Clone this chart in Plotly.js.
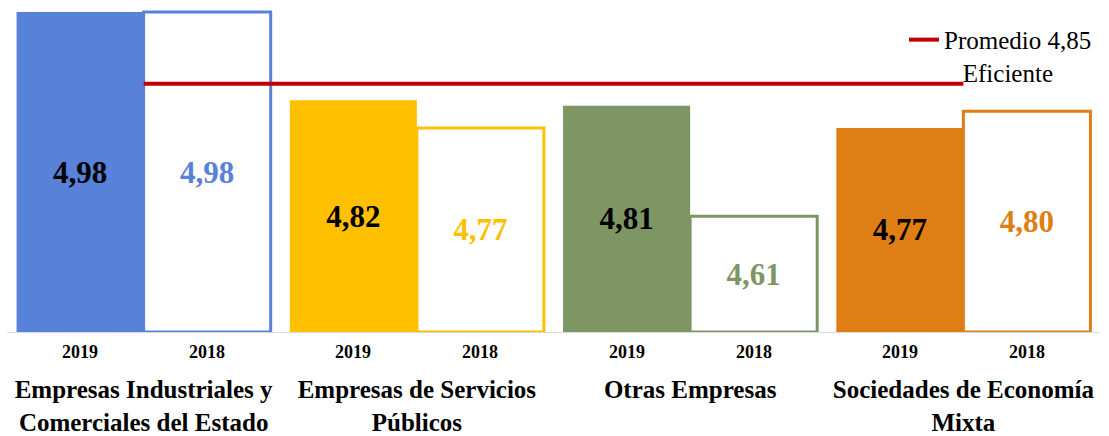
<!DOCTYPE html>
<html>
<head>
<meta charset="utf-8">
<script src="https://cdn.plot.ly/plotly-3.0.1.min.js"></script>
<style>html,body{margin:0;padding:0;background:#fff;}#chart{width:1109px;height:436px;}</style>
</head>
<body>
<div id="chart"></div>
<script>
// ---- data ----
const groups = [
  "Empresas Industriales y<br>Comerciales del Estado",
  "Empresas de Servicios<br>Públicos",
  "Otras Empresas",
  "Sociedades de Economía<br>Mixta"
];
const yearLabels = ["2019", "2018"];
const values2019 = [4.98, 4.82, 4.81, 4.77];
const values2018 = [4.98, 4.77, 4.61, 4.80];
const promedio = 4.85;
const promedioLabel = "Eficiente";
const groupColors = ["#5882D9", "#FFC000", "#7E9564", "#DF7E14"];

// ---- layout constants ----
const Y_MIN = 4.4, Y_MAX = 5.0;
const BARGAP = 0.07;
const SERIF = "Liberation Serif, Times New Roman, serif";
const fmt = v => v.toFixed(2).replace(".", ",");

const trace2019 = {
  type: "bar",
  name: yearLabels[0],
  x: groups,
  y: values2019.map(v => v - Y_MIN),
  base: Y_MIN,
  text: values2019.map(fmt),
  textposition: "inside",
  insidetextanchor: "middle",
  textangle: 0,
  constraintext: "none",
  textfont: {family: SERIF, size: 31, weight: "bold", color: "#000000"},
  marker: {color: groupColors, line: {width: 0}},
  showlegend: false,
  cliponaxis: false,
  hoverinfo: "skip"
};
const trace2018 = {
  type: "bar",
  name: yearLabels[1],
  x: groups,
  y: values2018.map(v => v - Y_MIN),
  base: Y_MIN,
  text: values2018.map(fmt),
  textposition: "inside",
  insidetextanchor: "middle",
  textangle: 0,
  constraintext: "none",
  textfont: {family: SERIF, size: 31, weight: "bold", color: groupColors},
  marker: {color: "#FFFFFF", line: {width: 3, color: groupColors}},
  showlegend: false,
  cliponaxis: false,
  hoverinfo: "skip"
};
const avgTrace = {
  type: "scatter",
  mode: "lines",
  x: [groups[0], groups[groups.length - 1]],
  y: [promedio, promedio],
  name: "Promedio " + fmt(promedio) + "<br>\u00a0\u00a0\u00a0" + promedioLabel,
  line: {color: "#C00000", width: 4},
  showlegend: true,
  hoverinfo: "skip"
};

// year labels below each bar (offset computed from the bar layout)
const half = (1 - BARGAP) / 4;
const annotations = [];
groups.forEach((g, i) => {
  yearLabels.forEach((yl, j) => {
    annotations.push({
      xref: "x", yref: "paper",
      x: i + (j === 0 ? -half : half), y: 0,
      yanchor: "middle", yshift: -20,
      text: yl, showarrow: false,
      font: {family: SERIF, size: 18, weight: "bold", color: "#000000"}
    });
  });
});

const layout = {
  width: 1109, height: 436,
  margin: {l: 7, r: 9, t: 1, b: 104},
  paper_bgcolor: "#FFFFFF",
  plot_bgcolor: "#FFFFFF",
  barmode: "group",
  bargap: BARGAP,
  bargroupgap: 0,
  xaxis: {
    type: "category",
    showgrid: false, zeroline: false,
    showline: true, linecolor: "#D9D9D9", linewidth: 1,
    ticks: "",
    ticklabelstandoff: 35,
    tickfont: {family: SERIF, size: 25, weight: "bold", color: "#000000"}
  },
  yaxis: {
    range: [Y_MIN, Y_MAX],
    visible: false,
    showgrid: false, zeroline: false
  },
  showlegend: true,
  legend: {
    x: 0.8207, xanchor: "left",
    y: 0.952, yanchor: "top",
    valign: "top",
    bgcolor: "rgba(0,0,0,0)",
    font: {family: SERIF, size: 25, color: "#000000"}
  },
  annotations: annotations
};

Plotly.newPlot("chart", [trace2019, trace2018, avgTrace], layout, {displayModeBar: false, staticPlot: true});
</script>
</body>
</html>
